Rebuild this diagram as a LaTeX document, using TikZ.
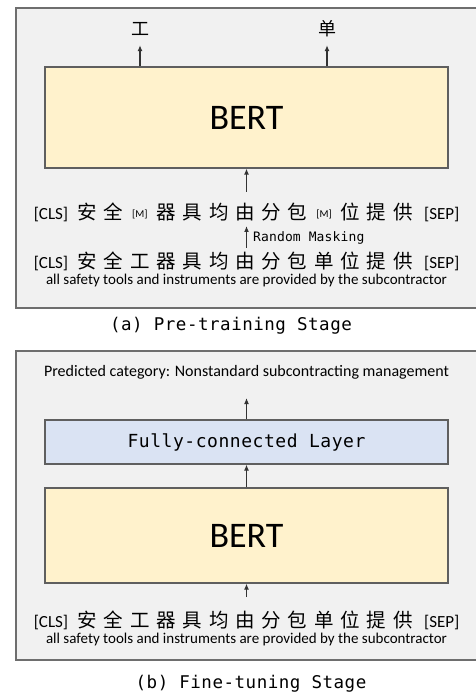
\documentclass[tikz,border=0pt]{standalone}
\usepackage{fontspec}
\setmainfont{Carlito}
\newfontfamily\cjk{Noto Sans CJK SC}
\newfontfamily\monof[LetterSpace=3]{DejaVu Sans Mono}
\newfontfamily\monofb[LetterSpace=1]{DejaVu Sans Mono}
\usetikzlibrary{arrows.meta}
\definecolor{panelfill}{HTML}{F1F1F1}
\definecolor{panelline}{HTML}{6E6E6E}
\definecolor{bertfill}{HTML}{FFF2CC}
\definecolor{fcfill}{HTML}{DAE3F3}
\definecolor{boxline}{HTML}{5F5F5F}
\definecolor{arrcol}{HTML}{333333}
\newcommand{\tk}[1]{\makebox[26.3pt]{\cjk\fontsize{19.5}{20}\selectfont #1}}
\newcommand{\mtok}{\makebox[26.3pt]{\raisebox{2.5pt}{\fontsize{10.5}{12}\selectfont [M]}}}
\newcommand{\clsbox}{\makebox[53pt][r]{[CLS]\hspace{6pt}}}
\newcommand{\sepbox}{\hspace{8pt}[SEP]}
\tikzset{
  panel/.style={draw=panelline, fill=panelfill, line width=1.5pt, inner sep=0pt},
  bertbox/.style={draw=boxline, fill=bertfill, line width=1.2pt, minimum width=403pt, inner sep=0pt, font=\fontsize{36}{40}\selectfont},
  fcbox/.style={draw=boxline, fill=fcfill, line width=1.2pt, minimum width=403pt, minimum height=44pt, inner sep=0pt, font=\monof\fontsize{18}{20}\selectfont},
  tokline/.style={anchor=base west, inner sep=0pt, font=\fontsize{17}{20}\selectfont},
  engline/.style={anchor=base, inner sep=0pt, font=\fontsize{15}{18}\selectfont},
  toplab/.style={inner sep=0pt, minimum height=32pt, font=\cjk\fontsize{18}{20}\selectfont},
  caplab/.style={anchor=base, inner sep=0pt, font=\monof\fontsize{17.5}{20}\selectfont},
  rmlab/.style={anchor=base west, inner sep=0pt, font=\monofb\fontsize{13}{15}\selectfont},
  arr/.style={-{Latex[length=6pt,width=5pt]}, line width=1.4pt, draw=arrcol},
}
\begin{document}
\begin{tikzpicture}[x=1pt,y=-1pt]
\useasboundingbox (0,0) rectangle (475,692);
\fill[white] (0,0) rectangle (475,692);
% ---------- panel (a)
\node[panel, minimum width=463pt, minimum height=300pt] (panelA) at (247.5,158) {};
\node[bertbox, minimum height=101pt] (bertA) at (246.5,117.5) {BERT};
\node[toplab] (gong) at (140,29) {工};
\node[toplab] (dan) at (327,29) {单};
\draw[arr] (bertA.north -| gong) -- (gong.south);
\draw[arr] (bertA.north -| dan) -- (dan.south);
\coordinate (inA) at (246.5,192);
\draw[arr] (inA) -- (bertA.south);
\node[tokline] (maskA) at (21,220) {\clsbox\tk{安}\tk{全}\mtok\tk{器}\tk{具}\tk{均}\tk{由}\tk{分}\tk{包}\mtok\tk{位}\tk{提}\tk{供}\sepbox};
\coordinate (rmTail) at (246.5,248);
\coordinate (rmTip) at (246.5,226);
\draw[arr] (rmTail) -- (rmTip);
\node[rmlab] (rm) at (253,241) {Random Masking};
\node[tokline] (origA) at (21,268) {\clsbox\tk{安}\tk{全}\tk{工}\tk{器}\tk{具}\tk{均}\tk{由}\tk{分}\tk{包}\tk{单}\tk{位}\tk{提}\tk{供}\sepbox};
\node[engline] (engA) at (246.5,284) {all safety tools and instruments are provided by the subcontractor};
\node[caplab] (capA) at (231,330) {(a) Pre-training Stage};
% ---------- panel (b)
\node[panel, minimum width=463pt, minimum height=309pt] (panelB) at (247.5,505.5) {};
\node[anchor=base, inner sep=0pt, font=\fontsize{16}{19}\selectfont] (pred) at (246.5,376) {Predicted category: Nonstandard subcontracting management};
\node[fcbox] (fc) at (246.5,442) {Fully-connected Layer};
\node[bertbox, minimum height=95pt] (bertB) at (246.5,535.5) {BERT};
\coordinate (predTip) at (246.5,398);
\draw[arr] (fc.north) -- (predTip);
\draw[arr] (bertB.north) -- (fc.south);
\coordinate (inB) at (246.5,597);
\draw[arr] (inB) -- (bertB.south);
\node[tokline] (origB) at (21,627) {\clsbox\tk{安}\tk{全}\tk{工}\tk{器}\tk{具}\tk{均}\tk{由}\tk{分}\tk{包}\tk{单}\tk{位}\tk{提}\tk{供}\sepbox};
\node[engline] (engB) at (246.5,643) {all safety tools and instruments are provided by the subcontractor};
\node[caplab] (capB) at (251,688) {(b) Fine-tuning Stage};
\end{tikzpicture}
\end{document}
